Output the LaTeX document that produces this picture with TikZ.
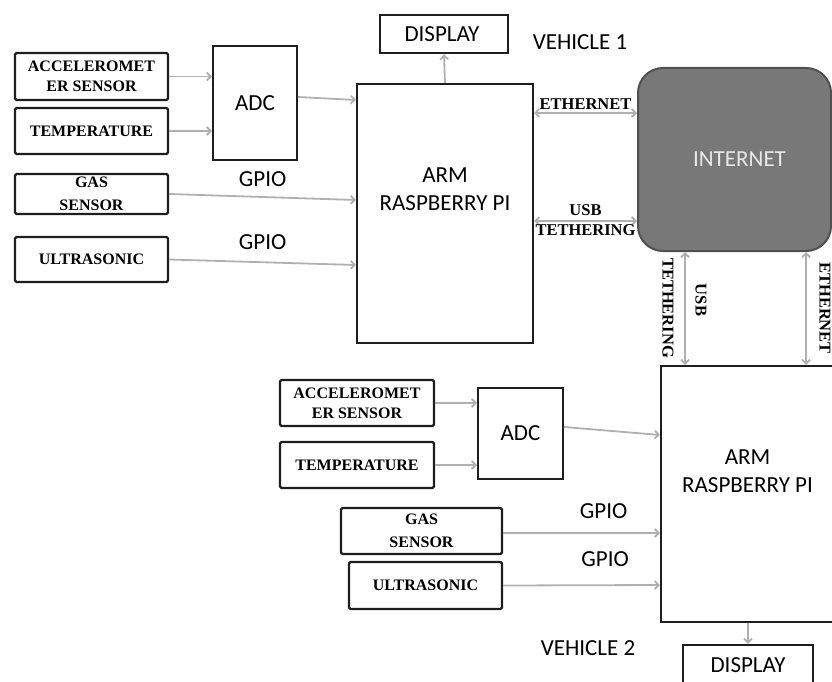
\documentclass[tikz,border=0pt]{standalone}
\usepackage{fontspec}
\setmainfont{Liberation Serif}
\setsansfont{Carlito}
\usetikzlibrary{arrows.meta}
\definecolor{wireline}{RGB}{176,176,176}
\definecolor{cloudgrey}{RGB}{120,120,120}
\definecolor{cloudedge}{RGB}{80,80,80}
\definecolor{cloudtext}{RGB}{232,232,232}
\definecolor{boxink}{RGB}{30,30,30}

\begin{document}
\begin{tikzpicture}[x=1pt,y=-1pt,
  sensor/.style={draw=boxink,line width=2.4pt,rounded corners=1.5pt,inner sep=0pt,align=center,font=\bfseries\fontsize{16}{20}\selectfont},
  block/.style={draw=boxink,line width=2pt,inner sep=0pt,align=center,font=\sffamily\fontsize{23}{28}\selectfont},
  link/.style={draw=wireline,line width=1.8pt,-{Straight Barb[length=4pt,width=8pt]}},
  duplex/.style={link,{Straight Barb[length=4pt,width=8pt]}-{Straight Barb[length=4pt,width=8pt]}},
  wirelabel/.style={font=\bfseries\fontsize{16.5}{18}\selectfont,inner sep=1pt},
  busname/.style={font=\sffamily\fontsize{23}{26}\selectfont,inner sep=0pt}]
  \useasboundingbox (0,0) rectangle (832,682);

  % vehicle 1
  \node[sensor,minimum width=153pt,minimum height=47pt] (acc1) at (91.5,76.5) {ACCELEROMET\\ER SENSOR};
  \node[sensor,minimum width=153pt,minimum height=46pt] (temp1) at (91.5,131) {TEMPERATURE};
  \node[sensor,minimum width=153pt,minimum height=40pt,font=\bfseries\fontsize{16}{23}\selectfont] (gas1) at (91.5,194) {GAS\\SENSOR};
  \node[sensor,minimum width=153pt,minimum height=45pt] (ultra1) at (91.5,259.5) {ULTRASONIC};
  \node[block,minimum width=84pt,minimum height=114pt] (adc1) at (255,103) {ADC};
  \node[block,minimum width=176pt,minimum height=259pt] (pi1) at (445,213.5) {};
  \node[busname,align=center,font=\sffamily\fontsize{23}{28}\selectfont] (pi1name) at ([yshift=24pt]pi1.center) {ARM\\RASPBERRY PI};
  \node[block,line width=2.4pt,minimum width=128pt,minimum height=38pt] (disp1) at (444,34) {\hspace{-4pt}DISPLAY};
  \node[busname] (veh1) at (580,42) {VEHICLE 1};

  % internet
  \node[draw=cloudedge,fill=cloudgrey,line width=2pt,rounded corners=25pt,minimum width=193pt,minimum height=183pt,
        text=cloudtext,font=\sffamily\fontsize{23}{26}\selectfont] (net) at (734.5,159.5) {\hspace{10pt}INTERNET};

  % vehicle 2
  \node[sensor,minimum width=154pt,minimum height=46pt] (acc2) at (357,403) {ACCELEROMET\\ER SENSOR};
  \node[sensor,minimum width=154pt,minimum height=46pt] (temp2) at (357,465) {TEMPERATURE};
  \node[sensor,minimum width=161pt,minimum height=46pt,font=\bfseries\fontsize{16}{23}\selectfont] (gas2) at (421.5,531) {GAS\\SENSOR};
  \node[sensor,minimum width=153pt,minimum height=47pt] (ultra2) at (425.5,585.5) {ULTRASONIC};
  \node[block,minimum width=85pt,minimum height=91pt] (adc2) at (520.5,433.5) {ADC};
  \node[block,minimum width=179pt,minimum height=256pt] (pi2) at (750.5,494) {};
  \node[busname,align=center,font=\sffamily\fontsize{23}{28}\selectfont] (pi2name) at ([xshift=-3pt,yshift=23pt]pi2.center) {ARM\\RASPBERRY PI};
  \node[block,line width=2.4pt,minimum width=130pt,minimum height=45pt] (disp2) at (748,667.5) {\raisebox{4pt}{DISPLAY}};
  \node[busname] (veh2) at (588,648) {VEHICLE 2};

  % wiring, vehicle 1
  \draw[link] (acc1.east) -- (acc1.east -| adc1.west);
  \draw[link] (temp1.east) -- (temp1.east -| adc1.west);
  \draw[link] ([yshift=6pt]adc1.east) -- ([yshift=113.5pt]pi1.west);
  \draw[link] (gas1.east) -- node[busname,above=9pt] {GPIO} ([yshift=13.5pt]pi1.west);
  \draw[link] (ultra1.east) -- node[busname,above=12pt] {GPIO} ([yshift=-51.5pt]pi1.west);
  \draw[link] (pi1.north) -- (disp1.south);
  \draw[duplex] ([yshift=100.5pt]pi1.east) coordinate (eth1)
    -- node[wirelabel,above=2pt] {ETHERNET} (eth1 -| net.west);
  \draw[duplex] ([yshift=-7.5pt]pi1.east) coordinate (usb1)
    -- node[wirelabel,above=3pt] {USB} node[wirelabel,below=2pt] {TETHERING} (usb1 -| net.west);

  % internet to vehicle 2
  \draw[duplex] ([xshift=-49.5pt]net.south) coordinate (usb2) -- (usb2 |- pi2.north);
  \draw[duplex] ([xshift=71.5pt]net.south) coordinate (eth2) -- (eth2 |- pi2.north);
  \node[wirelabel,rotate=-90] (usb2tether) at (668,308) {TETHERING};
  \node[wirelabel,rotate=-90] (usb2name) at (701,300) {USB};
  \node[wirelabel,rotate=-90] (eth2name) at (825,308) {ETHERNET};

  % wiring, vehicle 2
  \draw[link] (acc2.east) -- (acc2.east -| adc2.west);
  \draw[link] (temp2.east) -- (temp2.east -| adc2.west);
  \draw[link] ([yshift=6.5pt]adc2.east) -- ([yshift=59pt]pi2.west);
  \draw[link] ([yshift=-2pt]gas2.east) -- node[busname,above=13pt,pos=.64] {GPIO} ([yshift=-39pt]pi2.west);
  \draw[link] (ultra2.east) -- node[busname,above=18pt,pos=.65] {GPIO} ([yshift=-91pt]pi2.west);
  \draw[link] (disp2.north |- pi2.south) -- (disp2.north);
\end{tikzpicture}
\end{document}
